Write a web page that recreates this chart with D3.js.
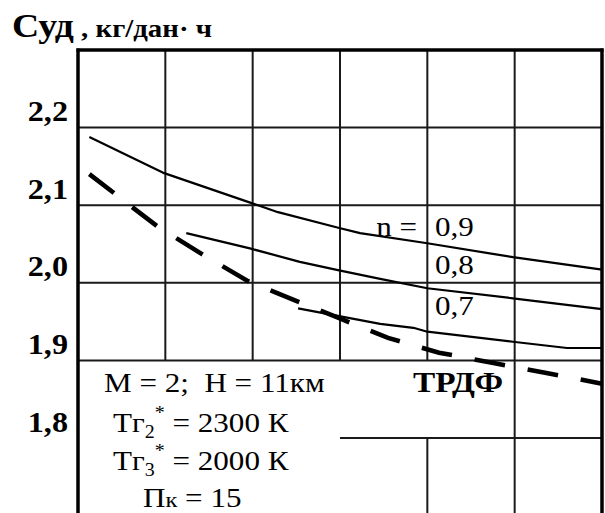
<!DOCTYPE html>
<html>
<head>
<meta charset="utf-8">
<script src="https://cdn.jsdelivr.net/npm/d3@7"></script>
<style>
  html, body { margin: 0; padding: 0; background: #fff; }
  svg { display: block; }
  text { font-family: "Liberation Serif", "Times New Roman", serif; fill: #000; white-space: pre; }
</style>
</head>
<body>
<svg id="chart" width="605" height="513"></svg>
<script>
// Specific fuel consumption vs. (unlabelled) abscissa, grid units 0..6
const yTickValues = [1.8, 1.9, 2.0, 2.1, 2.2];
const yTickLabels = ["1,8", "1,9", "2,0", "2,1", "2,2"];

// n = 0.9
const n09X = [0.13, 0.97, 1.98, 2.29, 2.98, 3.23, 4.0, 4.98, 6.0];
const n09Y = [2.188, 2.142, 2.103, 2.091, 2.071, 2.064, 2.051, 2.033, 2.017];
// n = 0.8
const n08X = [1.24, 1.98, 2.54, 2.99, 3.46, 4.0, 4.98, 6.0];
const n08Y = [2.064, 2.044, 2.027, 2.016, 2.005, 1.993, 1.980, 1.966];
// n = 0.7
const n07X = [2.52, 2.99, 3.46, 3.84, 4.0, 4.98, 5.6, 6.0];
const n07Y = [1.967, 1.957, 1.947, 1.942, 1.937, 1.924, 1.916, 1.916];
// dashed reference curve
const dashX = [0.13, 0.905, 1.42, 1.947, 2.428, 2.977, 3.55, 4.134, 4.741, 5.348, 6.0];
const dashY = [2.140, 2.073, 2.037, 2.002, 1.980, 1.955, 1.929, 1.910, 1.897, 1.884, 1.870];

const nLabels = ["0,9", "0,8", "0,7"];

const svg = d3.select("#chart");
const x = d3.scaleLinear().domain([0, 6]).range([78, 602]);
const y = d3.scaleLinear().domain([1.7, 2.3]).range([515.6, 50]);

// the typeface is set slightly wide
const WIDE = 1.11;
const place = (sel, px, py, k = WIDE) =>
  sel.attr("transform", `translate(${px},${py}) scale(${k},1)`);

const gridColor = "#1a1a1a";
const g = svg.append("g");

// horizontal grid lines across the full width
[1.9, 2.0, 2.1, 2.2].forEach(v => {
  g.append("line").attr("x1", x(0)).attr("x2", x(6))
    .attr("y1", y(v)).attr("y2", y(v))
    .attr("stroke", gridColor).attr("stroke-width", 2);
});
// short horizontal line in the lower block
g.append("line").attr("x1", x(3)).attr("x2", x(6))
  .attr("y1", y(1.8)).attr("y2", y(1.8))
  .attr("stroke", gridColor).attr("stroke-width", 2);

// vertical grid lines
[1, 2, 3, 4].forEach(c => {
  g.append("line").attr("x1", x(c)).attr("x2", x(c))
    .attr("y1", y(2.3)).attr("y2", y(1.9))
    .attr("stroke", gridColor).attr("stroke-width", 2);
});
g.append("line").attr("x1", x(4)).attr("x2", x(4))
  .attr("y1", y(1.8)).attr("y2", y(1.7))
  .attr("stroke", gridColor).attr("stroke-width", 2);
g.append("line").attr("x1", x(5)).attr("x2", x(5))
  .attr("y1", y(2.3)).attr("y2", y(1.7))
  .attr("stroke", gridColor).attr("stroke-width", 2);

// heavy frame: top, left axis, right edge
g.append("line").attr("x1", x(0) - 1.5).attr("x2", x(6) + 1.5)
  .attr("y1", y(2.3)).attr("y2", y(2.3))
  .attr("stroke", "#000").attr("stroke-width", 3.5);
g.append("line").attr("x1", x(0)).attr("x2", x(0))
  .attr("y1", y(2.3) - 1.5).attr("y2", y(1.7))
  .attr("stroke", "#000").attr("stroke-width", 3.5);
g.append("line").attr("x1", x(6)).attr("x2", x(6))
  .attr("y1", y(2.3) - 1.5).attr("y2", y(1.7))
  .attr("stroke", "#000").attr("stroke-width", 3.5);

// y tick labels
const yAxis = d3.axisLeft(y).tickValues(yTickValues)
  .tickFormat((d, i) => yTickLabels[i]).tickSize(0).tickPadding(0);
const ya = svg.append("g").attr("transform", `translate(${x(0) - 10},0)`).call(yAxis);
ya.select(".domain").remove();
ya.selectAll("text")
  .attr("font-family", "Liberation Serif")
  .attr("font-size", 29).attr("font-weight", "bold")
  .attr("x", 0).attr("dy", "-0.24em").attr("fill", "#000")
  .attr("transform", `scale(${WIDE},1)`);

// curves
const line = d3.line().x(d => x(d[0])).y(d => y(d[1])).curve(d3.curveLinear);
const zip = (xs, ys) => xs.map((v, i) => [v, ys[i]]);

[[n09X, n09Y], [n08X, n08Y], [n07X, n07Y]].forEach(([xs, ys]) => {
  svg.append("path").datum(zip(xs, ys)).attr("d", line)
    .attr("fill", "none").attr("stroke", "#000").attr("stroke-width", 2.2)
    .attr("stroke-linejoin", "round");
});
svg.append("path").datum(zip(dashX, dashY)).attr("d", line)
  .attr("fill", "none").attr("stroke", "#000").attr("stroke-width", 4.6)
  .attr("stroke-dasharray", "31,23");

// title
const title = place(svg.append("text").attr("font-weight", "bold"), 12, 37);
title.append("tspan").attr("font-size", 34).text("Суд");
title.append("tspan").attr("font-size", 26).text(" , кг/дан· ч");

// n labels
place(svg.append("text").attr("font-size", 28).attr("text-anchor", "end"), 417, 236).text("n =");
[236, 274, 315].forEach((yy, i) => {
  place(svg.append("text").attr("font-size", 28), 435, yy).text(nLabels[i]);
});

// engine type
place(svg.append("text").attr("font-size", 30).attr("font-weight", "bold"), 413, 392).text("ТРДФ");

// flight and cycle parameters
place(svg.append("text").attr("font-size", 28), 104, 392).text("M = 2;  H = 11км");

function tempLine(yy, sub, val) {
  const t = place(svg.append("text").attr("font-size", 28), 113, yy);
  t.append("tspan").text("Tг");
  t.append("tspan").attr("font-size", 18).attr("dy", 6).text(sub);
  t.append("tspan").attr("font-size", 18).attr("dy", -19).text("*");
  t.append("tspan").attr("dy", 13).text(" = " + val + " К");
}
tempLine(432, "2", "2300");
tempLine(470, "3", "2000");

const t4 = place(svg.append("text").attr("font-size", 28), 143, 507);
t4.append("tspan").text("П");
t4.append("tspan").attr("font-size", 22).text("к");
t4.append("tspan").text(" = 15");
</script>
</body>
</html>
